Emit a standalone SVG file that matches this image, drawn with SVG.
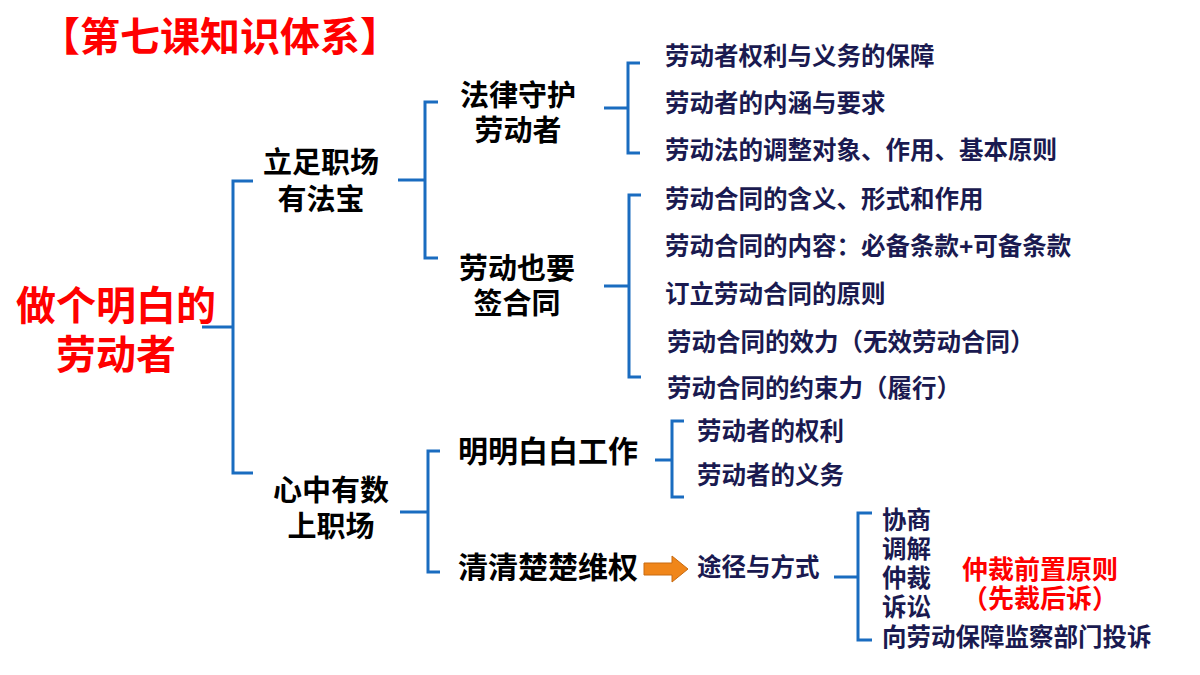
<svg xmlns="http://www.w3.org/2000/svg" width="1200" height="675" viewBox="0 0 1200 675">
<style>
text{font-family:"Liberation Sans","Noto Sans CJK SC",sans-serif;font-weight:bold}
.red{fill:#ff0000}
.l2{font-size:29px;fill:#000;text-anchor:middle}
.l3{font-size:30px;fill:#000}
.it{font-size:24.5px;fill:#1a1a50}
.br{fill:none;stroke:#1a6cc0;stroke-width:3}
</style>
<rect width="1200" height="675" fill="#fff"/>
<text x="40" y="51" class="red" font-size="40">【第七课知识体系】</text>
<g id="root"><text x="116" y="320" class="red" font-size="40" text-anchor="middle">做个明白的</text><text x="116" y="369" class="red" font-size="40" text-anchor="middle">劳动者</text></g>
<g id="n1"><text x="321" y="173" class="l2">立足职场</text><text x="321" y="210" class="l2">有法宝</text></g>
<g id="n2"><text x="331" y="501" class="l2">心中有数</text><text x="331" y="537" class="l2">上职场</text></g>
<g id="n11"><text x="518" y="106" class="l2">法律守护</text><text x="518" y="141" class="l2">劳动者</text></g>
<g id="n12"><text x="517" y="279" class="l2">劳动也要</text><text x="517" y="314" class="l2">签合同</text></g>
<g id="n21"><text x="458" y="462" class="l3">明明白白工作</text></g>
<g id="n22"><text x="458" y="578" class="l3">清清楚楚维权</text></g>
<g id="items">
<text x="665" y="65" class="it">劳动者权利与义务的保障</text>
<text x="665" y="112" class="it">劳动者的内涵与要求</text>
<text x="665" y="159" class="it">劳动法的调整对象、作用、基本原则</text>
<text x="665" y="208" class="it">劳动合同的含义、形式和作用</text>
<text x="665" y="255" class="it">劳动合同的内容：必备条款+可备条款</text>
<text x="665" y="303" class="it">订立劳动合同的原则</text>
<text x="667" y="351" class="it">劳动合同的效力（无效劳动合同）</text>
<text x="667" y="397" class="it">劳动合同的约束力（履行）</text>
<text x="697" y="440" class="it">劳动者的权利</text>
<text x="697" y="484" class="it">劳动者的义务</text>
<text x="697" y="576" class="it" font-size="25" font-weight="normal">途径与方式</text>
<text x="882" y="529" class="it" font-size="25">协商</text>
<text x="882" y="558" class="it" font-size="25">调解</text>
<text x="882" y="587" class="it" font-size="25">仲裁</text>
<text x="882" y="616" class="it" font-size="25">诉讼</text>
<text x="882" y="646" class="it" font-size="25">向劳动保障监察部门投诉</text>
<text x="1040" y="579" class="red" font-size="26" text-anchor="middle">仲裁前置原则</text>
<text x="1040" y="608" class="red" font-size="26" text-anchor="middle">（先裁后诉）</text>
</g>
<g id="connectors">
<path class="br" d="M253 181H233V473H253M202 327H233"/>
<path class="br" d="M438 102H425V258H438M398 180H425"/>
<path class="br" d="M640 63H628V153H640M604 108H628"/>
<path class="br" d="M641 195H629V377H641M604 286H629"/>
<path class="br" d="M440 451H428V572H440M400 512H428"/>
<path class="br" d="M684 421H672V497H684M655 460H672"/>
<path class="br" d="M872 513H858V640H872M834 577H858"/>
<path d="M644 563H672V556L688 569L672 582V575H644Z" fill="#f0861a" stroke="#c86a10" stroke-width="1"/>
</g>
</svg>
